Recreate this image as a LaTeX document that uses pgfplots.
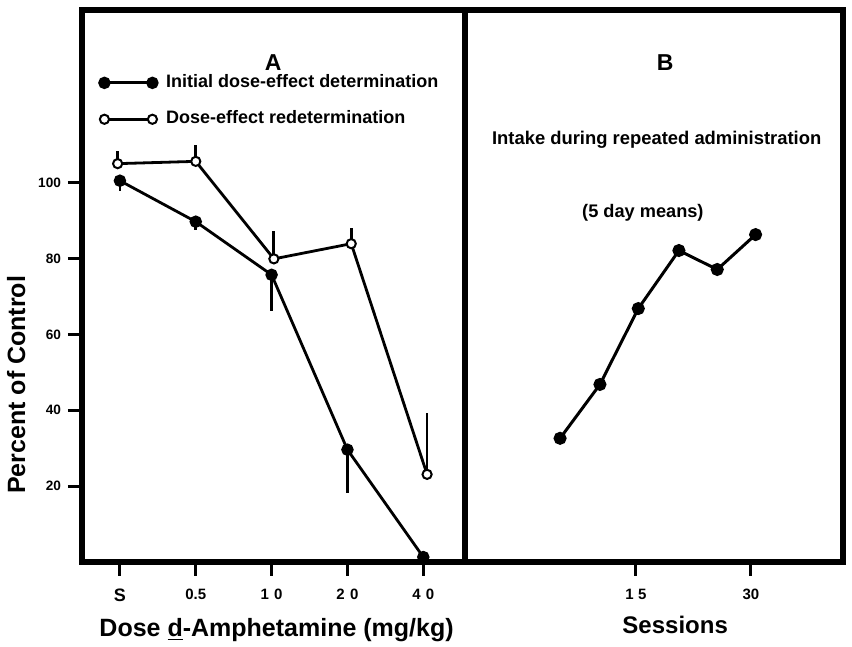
\documentclass[border=0pt]{standalone}
\usepackage{fontspec}
\setmainfont{Liberation Sans}
\usepackage{pgfplots}
\pgfplotsset{compat=1.18}
\begin{document}
\begin{tikzpicture}
\useasboundingbox (-41pt,-42.5pt) rectangle (385pt,281pt);
\pgfplotsset{
  panel/.style={
    scale only axis, height=276pt, ymin=0, ymax=145.5,
    axis line style={line width=3pt},
    tick style={line width=1.5pt, black},
    major tick length=7pt,
    tick align=outside,
    xtick pos=bottom, ytick pos=left,
    /pgf/number format/assume math mode=true,
    clip=false,
    xticklabel style={font=\fontsize{7.5}{8}\selectfont\bfseries, yshift=-3pt},
    yticklabel style={font=\fontsize{6.8}{7}\selectfont\bfseries},
  },
  ebar/.style={line width=1.4pt, black},
}
\begin{axis}[panel, at={(0pt,0pt)}, anchor=south west, width=191.5pt,
  xmin=-0.5, xmax=4.55,
  xtick={0,1,2,3,4},
  xticklabels={{\fontsize{9}{9}\selectfont S},0.5,{1\hspace{0.35em}0},{2\hspace{0.35em}0},{4\hspace{0.35em}0}},
  ytick={20,40,60,80,100},
  ylabel={Percent of Control},
  ylabel style={at={(axis description cs:-0.172,0.321)}, anchor=center, font=\fontsize{12.5}{13}\selectfont\bfseries},
  xlabel={Dose \underline{d}-Amphetamine (mg/kg)},
  xlabel style={at={(axis description cs:0.508,-0.123)}, anchor=center, font=\fontsize{12.5}{13}\selectfont\bfseries},
  legend style={at={(axis description cs:0.045,0.835)}, anchor=west, draw=none, fill=none,
    inner sep=0pt, row sep=9.7pt, column sep=4.5pt,
    font=\fontsize{9}{9}\selectfont\bfseries,
    nodes={inner sep=0pt, text height=6.6pt, text depth=1.9pt}},
  legend cell align=left,
  legend image code/.code={\draw[#1] plot coordinates {(0pt,0pt) (24pt,0pt)};},
]
\addplot[black, line width=1.4pt, mark=*, mark size=2.4pt, mark options={fill=black},
  error bars/.cd, y dir=minus, y explicit, error mark=none, error bar style={ebar}]
  coordinates {
  (0,100.5) -= (0,2.6)
  (1,89.7) -= (0,2.1)
  (2,75.7) -= (0,9.5)
  (3,29.6) -= (0,11.4)
  (4,1.3) -= (0,0)
};
\addlegendentry{Initial dose-effect determination}
\addplot[black, line width=1.4pt, mark=*, mark size=2.3pt, mark options={fill=white, line width=1pt},
  error bars/.cd, y dir=plus, y explicit, error mark=none, error bar style={ebar}]
  coordinates {
  (-0.03,105.0) += (0,3.3)
  (1,105.6) += (0,4.4)
  (2.03,79.9) += (0,7.3)
  (3.05,83.9) += (0,4.1)
  (4.05,23.1) += (0,16.1)
};
\addlegendentry{Dose-effect redetermination}
\node[font=\fontsize{11.5}{12}\selectfont\bfseries] at (axis cs:2.02,131.7) {A};
\end{axis}
\begin{axis}[panel, at={(191.5pt,0pt)}, anchor=south west, width=189pt,
  xmin=-7.3, xmax=42,
  xtick={15,30},
  xticklabels={{1\hspace{0.3em}5},30},
  ytick=\empty,
  xlabel={Sessions},
  xlabel style={at={(axis description cs:0.556,-0.114)}, anchor=center, font=\fontsize{12}{13}\selectfont\bfseries},
]
\addplot[black, line width=1.5pt, mark=*, mark size=2.5pt, mark options={fill=black}]
  coordinates {
  (5.1,32.6) (10.3,46.8) (15.3,66.8) (20.6,82.1) (25.6,77.1) (30.6,86.3)
};
\node[font=\fontsize{11.5}{12}\selectfont\bfseries] at (axis cs:18.8,131.7) {B};
\node[font=\fontsize{9.2}{10}\selectfont\bfseries] at (axis cs:17.7,111.3) {Intake during repeated administration};
\node[font=\fontsize{9.1}{10}\selectfont\bfseries] at (axis cs:15.9,92) {(5 day means)};
\end{axis}
\end{tikzpicture}
\end{document}
